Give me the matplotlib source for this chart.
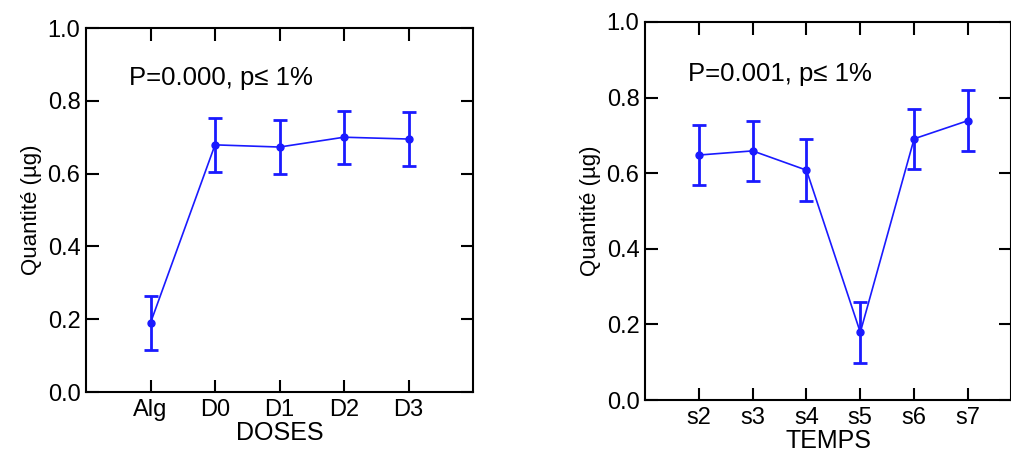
import matplotlib
matplotlib.use("Agg")
import matplotlib.pyplot as plt
import numpy as np

plt.rcParams['font.family'] = ['Liberation Sans', 'DejaVu Sans']

# left panel: doses
doses = ['Alg', 'D0', 'D1', 'D2', 'D3']
doses_mean = [0.19, 0.679, 0.673, 0.700, 0.695]
doses_err = [0.075, 0.074, 0.075, 0.073, 0.075]

# right panel: temps
temps = ['s2', 's3', 's4', 's5', 's6', 's7']
temps_mean = [0.648, 0.659, 0.608, 0.179, 0.691, 0.739]
temps_err = [0.080, 0.080, 0.082, 0.080, 0.080, 0.080]

blue = '#1a1aff'

fig = plt.figure(figsize=(10.12, 4.57), dpi=100)
ax1 = fig.add_axes([0.085, 0.1422, 0.3824, 0.7965])
ax2 = fig.add_axes([0.6374, 0.1247, 0.3616, 0.8272])


def panel(ax, cats, mean, err, xmax, label, txt, tx):
    x = np.arange(len(cats))
    ax.plot(x, mean, '-', color=blue, lw=1.2)
    ax.errorbar(x, mean, yerr=err, fmt='o', color=blue, ms=5,
                elinewidth=2, capsize=5, capthick=2)
    ax.set_xlim(-1, xmax)
    ax.set_ylim(0, 1.0)
    ax.set_xticks(x)
    ax.set_xticklabels(cats)
    ax.set_yticks([0.0, 0.2, 0.4, 0.6, 0.8, 1.0])
    ax.set_yticklabels(['0.0', '0.2', '0.4', '0.6', '0.8', '1.0'])
    ax.tick_params(direction='in', length=9, width=1.5, labelsize=17,
                   top=True, right=True)
    ax.tick_params(axis='y', pad=4)
    ax.tick_params(axis='x', pad=5)
    for s in ax.spines.values():
        s.set_linewidth(1.5)
    ax.set_ylabel('Quantité (µg)', fontsize=16, labelpad=4)
    ax.set_xlabel(label, fontsize=18, labelpad=0)
    ax.text(tx, 0.863, txt, fontsize=18.5, va='center', ha='left')


panel(ax1, doses, doses_mean, doses_err, 5, 'DOSES', 'P=0.000, p≤ 1%', -0.34)
panel(ax2, temps, temps_mean, temps_err, 5.8, 'TEMPS', 'P=0.001, p≤ 1%', -0.21)

fig.savefig('out.png', dpi=100)
